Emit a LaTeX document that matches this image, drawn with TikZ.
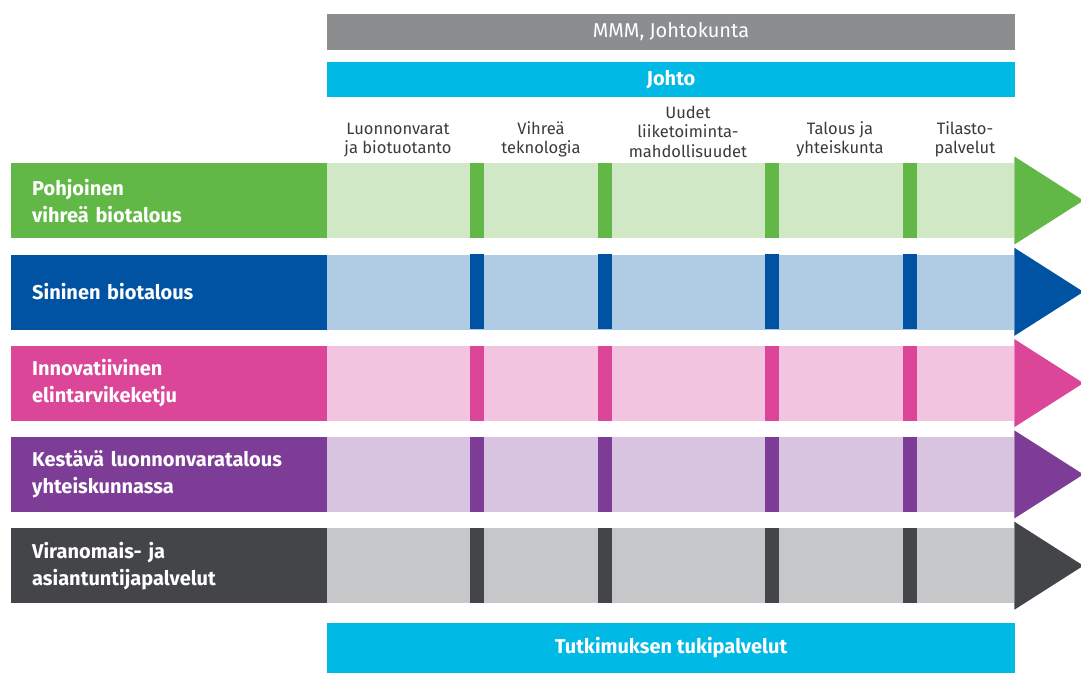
\documentclass[tikz,border=0pt]{standalone}
\usepackage{fontspec}
\setmainfont{Fira Sans}
\usetikzlibrary{positioning}

% palette
\definecolor{topgray}{HTML}{8C8D8F}
\definecolor{cyanbar}{HTML}{00B9E4}
\definecolor{grnD}{HTML}{62B846}  \definecolor{grnL}{HTML}{D0E8C6}
\definecolor{bluD}{HTML}{0052A2}  \definecolor{bluL}{HTML}{B0CBE4}
\definecolor{pnkD}{HTML}{DC4698}  \definecolor{pnkL}{HTML}{F3C4DF}
\definecolor{prpD}{HTML}{7D3C96}  \definecolor{prpL}{HTML}{D8C4E0}
\definecolor{drkD}{HTML}{434548}  \definecolor{drkL}{HTML}{C6C7C9}
\definecolor{coltext}{HTML}{3A3A3C}

\tikzset{
  bar/.style={inner sep=0pt, minimum width=688pt, text=white,
    font=\fontsize{20}{24}\selectfont},
  rowlabel/.style={anchor=north west, inner xsep=21pt, inner ysep=0pt,
    minimum height=75pt, text width=274pt, align=left, text=white,
    font=\bfseries\fontsize{20}{27}\selectfont},
  band/.style={anchor=north west, inner sep=0pt, minimum height=75pt,
    minimum width=687pt},
  colhead/.style={anchor=south, align=center, text=coltext,
    font=\fontsize{16.5}{19.5}\selectfont},
}

\begin{document}
\begin{tikzpicture}[x=1pt,y=-1pt]
\useasboundingbox (0,0) rectangle (1081,673);

% top bars
\node[bar, fill=topgray, minimum height=36pt] (board) at (671,32) {MMM, Johtokunta};
\node[bar, fill=cyanbar, minimum height=35pt, font=\bfseries\fontsize{20}{24}\selectfont]
  (johto) at (671,79.5) {Johto};

% column headings
\node[colhead] (c1) at (398,161) {Luonnonvarat\\ja biotuotanto};
\node[colhead] (c2) at (541,161) {Vihreä\\teknologia};
\node[colhead] (c3) at (688,161) {Uudet\\liiketoiminta-\\mahdollisuudet};
\node[colhead] (c4) at (840,161) {Talous ja\\yhteiskunta};
\node[colhead] (c5) at (965,161) {Tilasto-\\palvelut};

% rows
\foreach \i/\d/\l/\txt in {1/grnD/grnL/{Pohjoinen\\vihreä biotalous},
                           2/bluD/bluL/{Sininen biotalous},
                           3/pnkD/pnkL/{Innovatiivinen\\elintarvikeketju},
                           4/prpD/prpL/{Kestävä luonnonvaratalous\\yhteiskunnassa},
                           5/drkD/drkL/{Viranomais- ja\\asiantuntijapalvelut}}{
  \pgfmathsetmacro\y{163+91.3*(\i-1)}
  \node[band, fill=\l] (band\i) at (327,\y) {};
  \node[rowlabel, fill=\d] (row\i) at (11,\y) {\txt};
  \foreach \s in {470,598,765,903}
    \fill[\d] (\s,\y) rectangle ++(14,75);
  \fill[\d] (band\i.north east) ++(0,-6.5) -- ++(69,44) -- ++(-69,44) -- cycle;
}

% bottom bar
\node[bar, fill=cyanbar, minimum height=50pt, font=\bfseries\fontsize{20}{24}\selectfont]
  (tuki) at (671,648) {Tutkimuksen tukipalvelut};
\end{tikzpicture}
\end{document}
